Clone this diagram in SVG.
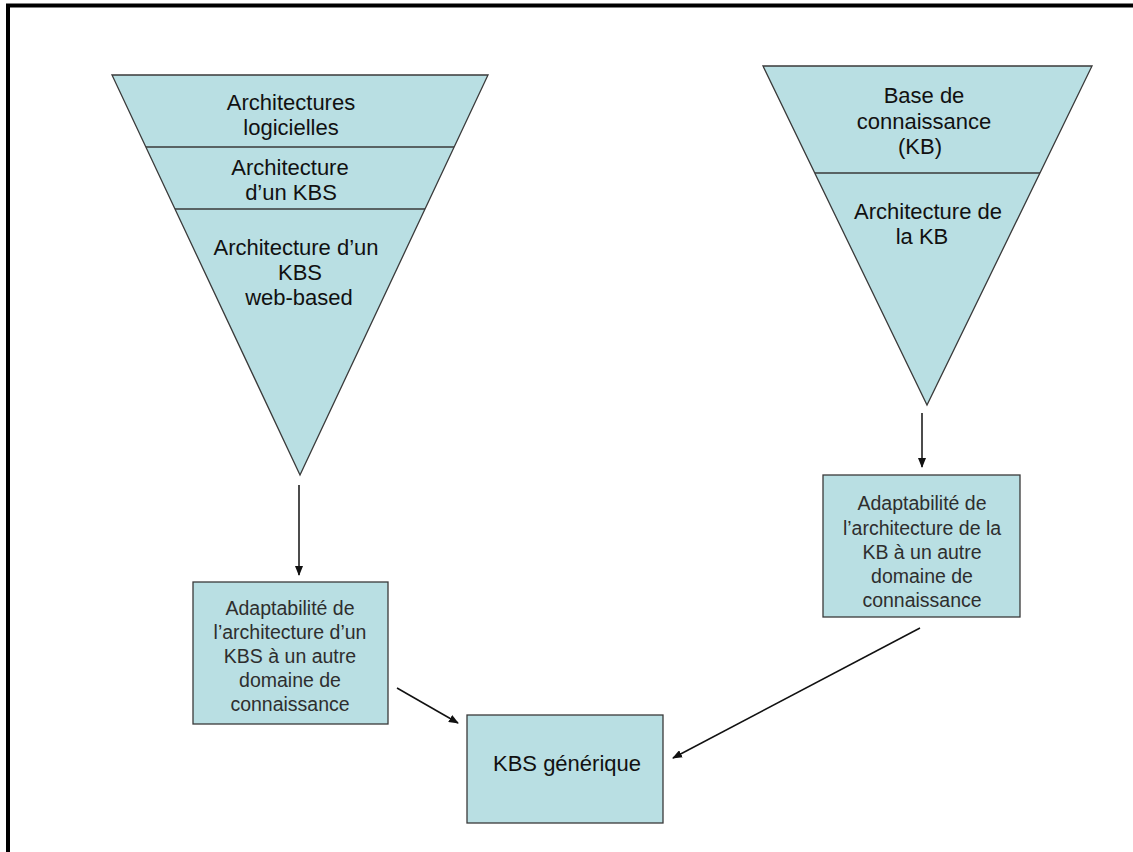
<svg xmlns="http://www.w3.org/2000/svg" width="1133" height="852" viewBox="0 0 1133 852">
<style>
.shape{fill:#b9dfe3;stroke:#3a3a3a;stroke-width:1.3}
.div{stroke:#3a3a3a;stroke-width:1.3;fill:none}
.tt{font-family:"Liberation Sans",Arial,sans-serif;font-size:22px;fill:#111;text-anchor:middle}
.bt{font-family:"Liberation Sans",Arial,sans-serif;font-size:19.5px;fill:#2e2e2e;text-anchor:middle}
.conn{stroke:#111;stroke-width:1.5;fill:none;marker-end:url(#ah)}
</style>
<defs>
<marker id="ah" markerWidth="10" markerHeight="8" refX="9" refY="4" orient="auto" markerUnits="userSpaceOnUse">
<path d="M0,0 L10,4 L0,8 Z" fill="#111"/>
</marker>
</defs>
<rect x="0" y="0" width="1133" height="852" fill="#fff"/>
<g id="frame">
<line x1="6" y1="5.5" x2="1133" y2="5.5" stroke="#000" stroke-width="4"/>
<line x1="8" y1="4" x2="8" y2="852" stroke="#000" stroke-width="4"/>
</g>
<g id="triangle-left">
<polygon class="shape" points="112,75 488,75 300,475"/>
<line class="div" x1="146" y1="147" x2="454" y2="147"/>
<line class="div" x1="175" y1="209" x2="425" y2="209"/>
<text class="tt" x="291" y="110">Architectures</text>
<text class="tt" x="291" y="135">logicielles</text>
<text class="tt" x="290" y="175">Architecture</text>
<text class="tt" x="291" y="200">d’un KBS</text>
<text class="tt" x="296" y="255">Architecture d’un</text>
<text class="tt" x="300" y="280">KBS</text>
<text class="tt" x="299" y="305">web-based</text>
</g>
<g id="triangle-right">
<polygon class="shape" points="763,66 1092,66 927,405"/>
<line class="div" x1="815" y1="173" x2="1040" y2="173"/>
<text class="tt" x="924" y="103">Base de</text>
<text class="tt" x="924" y="129">connaissance</text>
<text class="tt" x="920" y="154">(KB)</text>
<text class="tt" x="928" y="219">Architecture de</text>
<text class="tt" x="922" y="244">la KB</text>
</g>
<g id="box-left">
<rect class="shape" x="193" y="582" width="195" height="142"/>
<text class="bt" x="290" y="615">Adaptabilité de</text>
<text class="bt" x="290" y="639">l’architecture d’un</text>
<text class="bt" x="290" y="663">KBS à un autre</text>
<text class="bt" x="290" y="687">domaine de</text>
<text class="bt" x="290" y="711">connaissance</text>
</g>
<g id="box-right">
<rect class="shape" x="823" y="475" width="197" height="142"/>
<text class="bt" x="922" y="510">Adaptabilité de</text>
<text class="bt" x="922" y="535">l’architecture de la</text>
<text class="bt" x="922" y="559">KB à un autre</text>
<text class="bt" x="922" y="583">domaine de</text>
<text class="bt" x="922" y="607">connaissance</text>
</g>
<g id="box-kbs">
<rect class="shape" x="467" y="715" width="196" height="108"/>
<text class="tt" x="567" y="771" font-size="20">KBS générique</text>
</g>
<g id="connectors">
<line class="conn" x1="299" y1="485" x2="299" y2="575"/>
<line class="conn" x1="922" y1="413" x2="922" y2="467"/>
<line class="conn" x1="397" y1="688" x2="458" y2="723"/>
<line class="conn" x1="920" y1="628" x2="673" y2="758"/>
</g>
</svg>
